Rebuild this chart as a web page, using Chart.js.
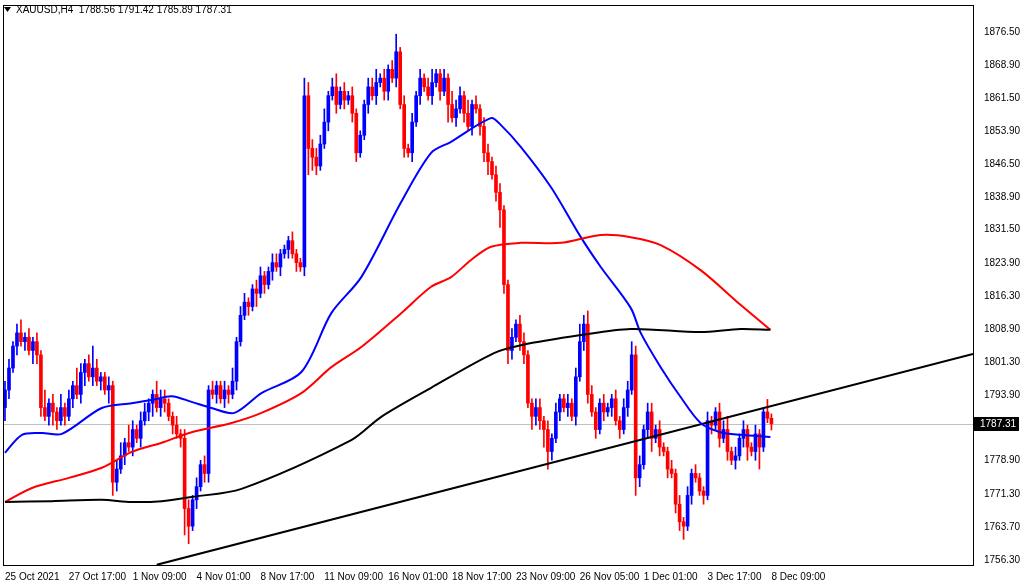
<!DOCTYPE html>
<html><head><meta charset="utf-8">
<script src="https://cdn.jsdelivr.net/npm/chart.js@4.4.1/dist/chart.umd.min.js"></script>
<style>html,body{margin:0;padding:0;background:#fff}#w{width:1020px;height:584px}</style>
</head><body><div id="w"><canvas id="c"></canvas></div>
<script>
const closes=[1795,1800,1805,1808,1806,1807,1804,1806,1803,1791,
1789,1792,1790,1788,1791,1789,1793,1796,1794,1799,
1801,1798,1800,1797,1798,1795,1796,1774,1777,1780,
1783,1782,1786,1784,1788,1790,1792,1794,1791,1793,
1792,1789,1787,1785,1784,1768,1764,1770,1773,1778,
1776,1795,1794,1796,1793,1795,1794,1797,1806,1812,
1815,1814,1818,1817,1821,1819,1822,1824,1823,1826,
1827,1829,1826,1824,1823,1862,1850,1848,1846,1851,
1856,1862,1864,1860,1863,1861,1862,1858,1849,1853,
1860,1864,1862,1865,1866,1863,1868,1866,1872,1860,
1850,1849,1856,1862,1866,1864,1862,1865,1867,1863,
1866,1860,1857,1859,1862,1858,1855,1860,1859,1855,
1849,1847,1844,1840,1836,1819,1804,1807,1810,1806,
1803,1792,1789,1791,1788,1786,1781,1784,1790,1793,
1791,1792,1789,1798,1806,1810,1794,1790,1786,1792,
1790,1791,1793,1788,1786,1791,1795,1803,1775,1778,
1786,1790,1784,1786,1782,1781,1777,1776,1769,1765,
1764,1771,1776,1775,1772,1771,1788,1787,1790,1784,
1786,1781,1779,1780,1784,1786,1782,1781,1785,1782,
1790,1788.56,1787.31];
const firstOpen=1791;
const wickUp=[2,2,1,2,3,1,2,1,2,1, 4,1,2,1,3,1,2,1,4,2, 1,2,5,2,1,1,2,1,2,3, 1,4,2,1,2,2,1,1,3,2, 2,1,1,2,1,2,2,1,2,1, 2,1,2,1,1,2,1,3,1,2, 2,1,1,2,2,1,1,2,2,1, 1,1,2,1,1,4,3,2,2,2, 3,1,2,3,1,2,1,2,1,1, 1,2,2,3,1,2,1,2,4,1, 2,1,2,1,2,1,2,3,1,1, 2,1,3,2,2,1,3,1,2,1, 2,2,1,2,2,1,1,2,1,2, 2,1,1,2,2,1,2,1,2,1, 1,2,1,2,4,2,3,2,1,1, 2,1,1,2,1,2,2,3,2,2, 1,2,2,1,2,1,1,2,1,2, 1,2,1,2,1,1,2,1,1,2, 2,3,1,2,1,2,1,1,2,1, 1,2.86,1];
const wickDn=[3,2,1,2,1,2,1,3,2,2, 1,2,3,2,1,2,1,2,1,2, 3,1,2,1,2,1,3,3,2,1, 2,1,2,1,2,1,2,3,1,2, 2,1,2,1,2,6,4,1,2,1, 2,2,1,2,1,2,2,1,2,1, 1,2,1,3,1,2,1,2,1,2, 1,2,1,2,1,2,6,3,2,1, 1,2,1,2,1,2,1,2,2,1, 1,2,1,2,1,2,2,1,2,1, 2,1,2,1,2,1,1,2,1,2, 1,4,1,2,1,2,1,2,1,2, 2,3,1,2,4,2,3,2,1,2, 2,1,3,2,2,4,4,2,1,2, 1,2,1,2,1,2,2,1,2,1, 2,1,2,1,2,1,2,1,4,2, 1,2,3,1,2,1,2,1,2,2, 3,1,2,1,1,2,1,2,1,2, 1,2,1,2,1,2,3,1,2,5, 1,1,1.42];
const blueMA=[[0,1780.7],[4.25,1784.8],[9.25,1785.2],[14.25,1785.0],[24.25,1790.9],[31.75,1792.0],[36.75,1792.7],[41.75,1793.6],[46.75,1792.3],[51.75,1790.9],[57.5,1789.8],[64.25,1794.3],[74.25,1799.1],[81.75,1812.5],[89.25,1820.7],[99.25,1837.8],[106.75,1849.0],[111.75,1851.5],[121.75,1856.9],[124.25,1855.3],[129.25,1850.3],[136.75,1841.2],[144.25,1829.8],[149.25,1823.0],[156.75,1813.7],[159.25,1808.0],[164.25,1800.2],[169.25,1793.4],[174.25,1787.5],[179.25,1785.4],[184.25,1784.8],[191.75,1784.3]];
const redMA=[[0,1769.5],[6.75,1772.7],[16,1775.0],[24.25,1777.3],[31.75,1780.9],[39.25,1783.0],[46.75,1785.4],[56.75,1787.5],[64.25,1789.8],[74.25,1794.3],[81.75,1800.2],[89.25,1804.8],[99.25,1812.5],[106.75,1818.5],[111.75,1820.7],[116.75,1824.6],[121.75,1827.6],[129.25,1828.5],[139.25,1828.5],[149.25,1830.3],[156.75,1829.8],[164.25,1828.0],[174.25,1822.3],[184.25,1814.4],[191.75,1808.7]];
const blackMA=[[0,1769.5],[11.75,1769.7],[24.25,1770.0],[31.75,1769.5],[39.25,1769.7],[46.75,1770.65],[59.25,1772.5],[86.75,1783.6],[94.25,1788.9],[106.75,1795.5],[122.5,1803.4],[129.25,1805.2],[144.25,1807.5],[156.75,1808.9],[174.25,1808.2],[184.25,1808.9],[191.75,1808.7]];
const trendLine=[[38,1755.2],[242.5,1803.2]];
const priceTicks=[1876.50,1868.90,1861.50,1853.90,1846.50,1838.90,1831.50,1823.90,1816.30,1808.90,1801.30,1793.90,1778.90,1771.30,1763.70,1756.30];
const timeLabels=['25 Oct 2021','27 Oct 17:00','1 Nov 09:00','4 Nov 01:00','8 Nov 17:00','11 Nov 09:00','16 Nov 01:00','18 Nov 17:00','23 Nov 09:00','26 Nov 05:00','1 Dec 01:00','3 Dec 17:00','8 Dec 09:00'];
const lastPrice=1787.31;
const header='XAUUSD,H4  1788.56 1791.42 1785.89 1787.31';
const Y_MIN=1755.16,Y_MAX=1882.65;

const bodies=[],wicks=[],cols=[];
closes.forEach((c,i)=>{const o=i?closes[i-1]:firstOpen;const up=c>=o;
 let lo=Math.min(o,c),hi=Math.max(o,c);if(hi-lo<0.2){hi+=0.12;lo-=0.12;}
 bodies.push({x:i,y:[lo,hi]});wicks.push({x:i,y:[Math.min(o,c)-wickDn[i],Math.max(o,c)+wickUp[i]]});cols.push(up?'#0000FF':'#FF0000');});
const pts=a=>a.map(p=>({x:p[0],y:p[1]}));
const line=(d,col)=>({type:'line',data:pts(d),borderColor:col,borderWidth:2,pointRadius:0,tension:0.3,order:0});
const FONT='10px "Liberation Sans"';
const deco={id:'deco',afterDatasetsDraw(ch){const {ctx,chartArea:a,scales:{y}}=ch;
 ctx.save();ctx.strokeStyle='#000';ctx.lineWidth=1;ctx.strokeRect(a.left+0.5,a.top+0.5,a.right-a.left,a.bottom-a.top);
 const py=Math.round(y.getPixelForValue(lastPrice));ctx.fillStyle='#000';ctx.fillRect(a.right,py-7,46,14);
 ctx.fillStyle='#fff';ctx.font=FONT;ctx.textBaseline='middle';ctx.fillText(lastPrice.toFixed(2),a.right+7,py);
 ctx.fillStyle='#000';ctx.beginPath();ctx.moveTo(4,7);ctx.lineTo(11,7);ctx.lineTo(7.5,12);ctx.fill();
 ctx.fillText(header,16,10);ctx.restore();},
 beforeDatasetsDraw(ch){const {ctx,chartArea:a,scales:{y}}=ch;const py=Math.round(y.getPixelForValue(lastPrice))+0.5;
 ctx.save();ctx.strokeStyle='#C0C0C0';ctx.lineWidth=1;ctx.beginPath();ctx.moveTo(a.left,py);ctx.lineTo(a.right,py);ctx.stroke();ctx.restore();}};
new Chart(document.getElementById('c'),{
 data:{datasets:[
  {type:'bar',data:wicks,backgroundColor:cols,barThickness:1,grouped:false,order:2},
  {type:'bar',data:bodies,backgroundColor:cols,barThickness:3,grouped:false,order:1},
  line(blackMA,'#000000'),line(redMA,'#FF0000'),line(blueMA,'#0000FF'),
  {type:'line',data:pts(trendLine),borderColor:'#000',borderWidth:2,pointRadius:0,order:0}]},
 options:{responsive:true,maintainAspectRatio:false,animation:false,
  layout:{padding:{left:3,top:5,right:0,bottom:0}},
  plugins:{legend:{display:false},tooltip:{enabled:false}},
  scales:{
   x:{type:'linear',min:-0.5,max:242.5,offset:false,grid:{display:false},border:{display:false},
    afterBuildTicks:s=>{s.ticks=timeLabels.map((_,i)=>({value:i*16}));},
    afterFit:s=>{s.height=19;s.paddingLeft=0;s.paddingRight=0;},
    ticks:{autoSkip:false,maxRotation:0,align:'start',padding:-1,color:'#000',font:{family:'Liberation Sans',size:10,lineHeight:1},callback:(v,i)=>timeLabels[i]}},
   y:{position:'right',min:Y_MIN,max:Y_MAX,grid:{display:false},border:{display:false},
    afterBuildTicks:s=>{s.ticks=priceTicks.slice().reverse().map(v=>({value:v}));},
    afterFit:s=>{s.width=47;s.paddingTop=0;s.paddingBottom=0;},
    ticks:{autoSkip:false,padding:3,color:'#000',font:{family:'Liberation Sans',size:10},callback:v=>v.toFixed(2)}}}},
 plugins:[deco]});
</script></body></html>
